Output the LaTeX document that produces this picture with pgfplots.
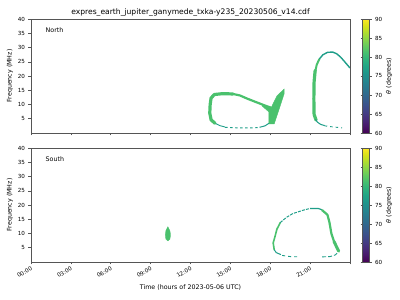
\documentclass[border=0pt]{standalone}
\usepackage{pgfplots}
\pgfplotsset{compat=1.18}
\usepackage{fontspec}
\setmainfont{DejaVu Sans}
\definecolor{vgreen}{HTML}{4AC16D}
\definecolor{vteal}{HTML}{1F9E89}
\definecolor{axgray}{HTML}{555555}
\pgfplotsset{
  panel/.style={
    scale only axis, width=319pt, height=114pt,
    xmin=0, xmax=24, ymin=0, ymax=40,
    xtick={0,3,...,24}, ytick={5,10,...,40},
    tick align=outside, tick pos=left,
    major tick length=2.5pt,
    axis line style={axgray, line width=0.6pt}, tick style={axgray, line width=0.5pt},
    tick label style={font=\fontsize{5.6}{6}\selectfont},
    label style={font=\fontsize{6.3}{7}\selectfont},
    /pgf/number format/assume math mode=true,
    ylabel={Frequency (MHz)},
    ylabel style={yshift=-2pt},
    colormap/viridis, colorbar, point meta min=60, point meta max=90,
    colorbar style={
      at={(parent axis.north east)}, anchor=north west, xshift=4pt,
      width=7pt, ytick={60,65,...,90},
      tick align=outside, major tick length=2pt,
      axis line style={axgray, line width=0.5pt}, tick style={axgray},
      tick label style={font=\fontsize{5.6}{6}\selectfont},
      /pgf/number format/assume math mode=true,
      ylabel={\textit{θ} (degrees)},
      ylabel style={font=\fontsize{6.3}{7}\selectfont, yshift=3pt},
    },
  }
}
\begin{document}
\begin{tikzpicture}
\path[use as bounding box] (0pt,0pt) rectangle (400pt,300pt);
% ---------------- North ----------------
\begin{axis}[panel, at={(31pt,167pt)}, anchor=south west,
  xticklabels={},
  title={expres\_earth\_jupiter\_ganymede\_txka-y235\_20230506\_v14.cdf},
  title style={font=\fontsize{7.6}{8}\selectfont, yshift=-7pt},
]
% loop 1: left and top (thick)
\addplot[draw=vgreen, line width=3.2pt, line join=round, line cap=round] coordinates {
 (13.85,3.4) (13.55,4.6) (13.45,7) (13.48,10) (13.55,12.3) (13.8,13.5) (14.4,13.8) (15.2,13.7)};
\addplot[draw=vgreen, line width=2.2pt, line join=round, line cap=round] coordinates {
 (15.2,13.7) (15.7,13.2) (16.3,12.0) (16.9,10.9) (17.4,10.0) (17.8,9.3) (18.05,8.9)};
% V shape
\addplot[fill=vgreen, draw=vgreen, line width=0.4pt] coordinates {
 (17.38,10.2) (18.06,8.8) (18.5,13.0) (19.04,15.4) (19.04,13.7) (18.7,8.8) (18.3,3.2) (17.9,3.2) (17.9,7.4) (17.38,9.5)} -- cycle;
% loop 1 bottom
\addplot[draw=vteal, line width=0.9pt, line join=round] coordinates {
 (13.9,3.3) (14.2,2.6) (14.6,2.1)};
\addplot[draw=vteal, line width=0.9pt, dash pattern=on 2.5pt off 2.5pt] coordinates {
 (14.6,2.0) (15.5,1.8) (16.5,1.8) (17.2,1.9)};
\addplot[draw=vteal, line width=1.0pt, line join=round] coordinates {
 (17.2,2.0) (17.6,2.5) (17.9,3.4)};
% right loop
\addplot[draw=vgreen, line width=3.2pt, line join=round, line cap=round] coordinates {
 (21.45,4.5) (21.3,6.5) (21.28,12) (21.3,18) (21.38,22)};
\addplot[draw=vgreen, line width=2.0pt, line join=round] coordinates {
 (21.38,21.5) (21.5,24) (21.7,26)};
\addplot[draw=vteal, line width=1.4pt, line join=round] coordinates {
 (21.7,26) (21.95,27.4) (22.3,28.3) (22.7,28.4) (23.0,27.8) (23.3,26.6) (23.6,25.0) (24.0,22.8)};
\addplot[draw=vteal, line width=1.0pt, line join=round] coordinates {
 (21.4,4.8) (21.55,3.8) (21.8,3.0) (22.1,2.6)};
\addplot[draw=vteal, line width=0.9pt, dash pattern=on 2.5pt off 3pt] coordinates {
 (22.1,2.5) (22.6,2.2) (23.4,1.8)};
\node[anchor=west, font=\fontsize{6.3}{7}\selectfont] at (rel axis cs:0.035,0.905) {North};
\end{axis}
% ---------------- South ----------------
\begin{axis}[panel, at={(31pt,38pt)}, anchor=south west,
  xticklabels={00:00,03:00,06:00,09:00,12:00,15:00,18:00,21:00,{}},
  xticklabel style={rotate=30, anchor=north east, inner sep=1pt},
  xlabel={Time (hours of 2023-05-06 UTC)},
  xlabel style={yshift=-2pt},
]
% blob
\addplot[fill=vgreen, draw=vgreen, line width=0.3pt] coordinates {
 (10.3,12.4) (10.45,11) (10.5,9.5) (10.45,8) (10.3,7.4) (10.15,8) (10.1,9.5) (10.15,11)} -- cycle;
% left side
\addplot[draw=vgreen, line width=1.6pt, line join=round, line cap=round] coordinates {
 (18.3,4.3) (18.22,6.7) (18.35,8.8) (18.5,11.5) (18.75,13.8)};
\addplot[draw=vteal, line width=1.0pt, dash pattern=on 3pt off 1.2pt] coordinates {
 (18.75,13.8) (19.2,15.6) (19.7,17.0) (20.5,18.2) (21.0,18.8)};
\addplot[draw=vteal, line width=1.2pt, line join=round] coordinates {
 (21.0,18.8) (21.6,18.8) (21.9,18.3)};
% right side thick
\addplot[draw=vgreen, line width=2.2pt, line join=round, line cap=round] coordinates {
 (21.9,18.2) (22.3,16.6) (22.45,14) (22.6,10) (22.8,7.2)};
\addplot[draw=vgreen, line width=3.0pt, line join=round, line cap=round] coordinates {
 (22.8,7.2) (23.0,5.2) (23.15,3.8)};
% bottom
\addplot[draw=vteal, line width=1.0pt, line join=round] coordinates {
 (18.3,4.3) (18.45,3.3) (18.8,2.6)};
\addplot[draw=vteal, line width=0.9pt, dash pattern=on 3pt off 3pt] coordinates {
 (18.9,2.3) (19.5,1.9) (20.2,1.8)};
\addplot[draw=vteal, line width=0.9pt, dash pattern=on 4pt off 2pt] coordinates {
 (21.9,1.8) (22.5,1.9) (22.9,2.5) (23.1,3.4)};
\node[anchor=west, font=\fontsize{6.3}{7}\selectfont] at (rel axis cs:0.035,0.905) {South};
\end{axis}
\end{tikzpicture}
\end{document}
